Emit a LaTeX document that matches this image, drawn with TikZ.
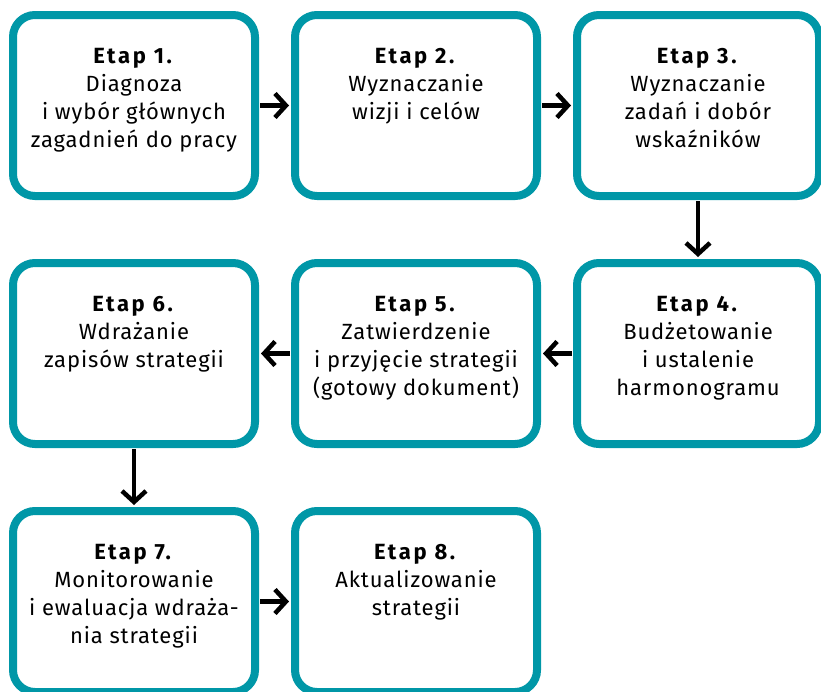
\documentclass[tikz,border=0pt]{standalone}
\usepackage{fontspec}
\setmainfont{Fira Sans}[LetterSpace=4, BoldFeatures={LetterSpace=12}]
\usetikzlibrary{positioning,arrows.meta}
\definecolor{etapteal}{RGB}{0,151,167}

\begin{document}
\begin{tikzpicture}[x=1pt, y=1pt, node distance=59pt and 32pt,
  etap/.style={draw=etapteal, line width=8pt, rounded corners=22pt, minimum width=242pt, minimum height=181pt, inner sep=0pt},
  lbl/.style={anchor=north, yshift=-37pt, inner sep=0pt, align=center, font=\fontsize{22}{28}\selectfont},
  flow/.style={-{Straight Barb[length=11pt, width=24pt]}, line width=4.5pt, shorten >=2pt, shorten <=1pt}]
  \useasboundingbox (0,0) rectangle (821,-691);
  \node[etap, label={[lbl]north:{\textbf{Etap 1.}\\Diagnoza\\i wybór głównych\\zagadnień do pracy}}] (e1) at (134,-105.5) {};
  \node[etap, right=of e1, label={[lbl]north:{\textbf{Etap 2.}\\Wyznaczanie\\wizji i celów}}] (e2) {};
  \node[etap, right=of e2, label={[lbl]north:{\textbf{Etap 3.}\\Wyznaczanie\\zadań i dobór\\wskaźników}}] (e3) {};
  \node[etap, below=of e3, label={[lbl]north:{\textbf{Etap 4.}\\Budżetowanie\\i ustalenie\\harmonogramu}}] (e4) {};
  \node[etap, left=of e4, label={[lbl]north:{\textbf{Etap 5.}\\Zatwierdzenie\\i przyjęcie strategii\\(gotowy dokument)}}] (e5) {};
  \node[etap, left=of e5, label={[lbl]north:{\textbf{Etap 6.}\\Wdrażanie\\zapisów strategii}}] (e6) {};
  \node[etap, below=of e6, label={[lbl]north:{\textbf{Etap 7.}\\Monitorowanie\\i ewaluacja wdraża-\\nia strategii}}] (e7) {};
  \node[etap, right=of e7, label={[lbl]north:{\textbf{Etap 8.}\\Aktualizowanie\\strategii}}] (e8) {};
  % przejscia miedzy etapami
  \draw[flow] (e1) -- (e2);
  \draw[flow] (e2) -- (e3);
  \draw[flow] (e3) -- (e4);
  \draw[flow] (e4) -- (e5);
  \draw[flow] (e5) -- (e6);
  \draw[flow] (e6) -- (e7);
  \draw[flow] (e7) -- (e8);
\end{tikzpicture}
\end{document}
